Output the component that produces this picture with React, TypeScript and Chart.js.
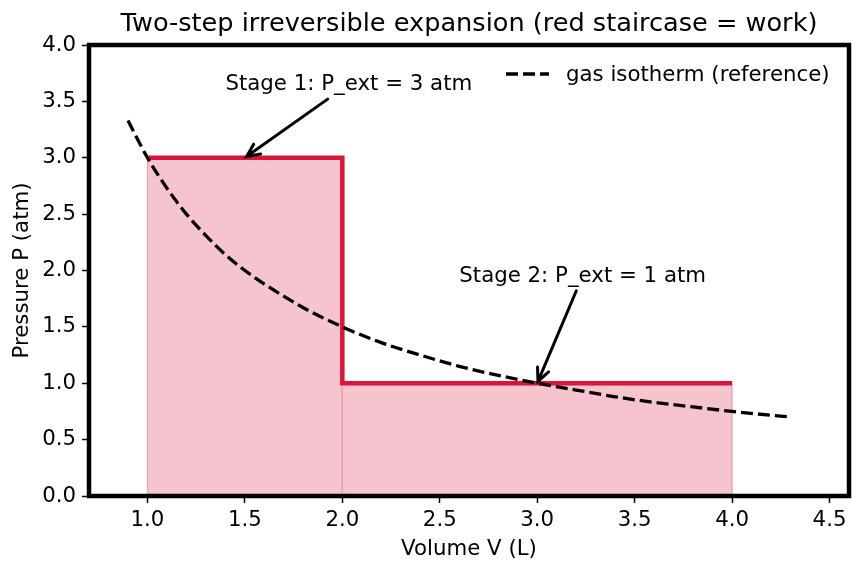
import React, { useEffect, useRef } from "react";
import { Chart, registerables } from "chart.js";
Chart.register(...registerables);

const TITLE = "Two-step irreversible expansion (red staircase = work)";
const X_LABEL = "Volume V (L)";
const Y_LABEL = "Pressure P (atm)";
const LEGEND_LABEL = "gas isotherm (reference)";

// red staircase (external pressure path)
const stageV = [1.0, 2.0, 2.0, 4.0];
const stageP = [3.0, 3.0, 1.0, 1.0];

// reference isotherm
const isoV = [0.9, 1.0, 1.1, 1.2, 1.3, 1.4, 1.5, 1.6, 1.8, 2.0, 2.2, 2.4, 2.6, 2.8, 3.0, 3.2, 3.4, 3.6, 3.8, 4.0, 4.3];
const isoP = [3.33, 3.0, 2.73, 2.5, 2.31, 2.14, 2.0, 1.88, 1.67, 1.5, 1.36, 1.25, 1.15, 1.07, 1.0, 0.94, 0.88, 0.83, 0.79, 0.75, 0.7];

const xTicks = [1.0, 1.5, 2.0, 2.5, 3.0, 3.5, 4.0, 4.5];
const yTicks = [0.0, 0.5, 1.0, 1.5, 2.0, 2.5, 3.0, 3.5, 4.0];
const xRange = [0.7, 4.6];
const yRange = [0.0, 4.0];

const annTexts = ["Stage 1: P_ext = 3 atm", "Stage 2: P_ext = 1 atm"];
const annTextX = [1.4, 2.6];
const annTextY = [3.6, 1.9];
const annTargetX = [1.5, 3.0];
const annTargetY = [3.0, 1.0];

const CRIMSON = "#dc143c";
const FILL = "rgba(220,20,60,0.25)";
const EDGE = "rgba(220,20,60,0.35)";
const FONT = "DejaVu Sans, sans-serif";
const FS = 21.3;
const TFS = 25.6;

const pts = (xs: number[], ys: number[]) => xs.map((x, i) => ({ x, y: ys[i] }));

const overlay = {
  id: "overlay",
  afterDraw(chart: any) {
    const ctx = chart.ctx as CanvasRenderingContext2D;
    const a = chart.chartArea;
    const xs = chart.scales.x;
    const ys = chart.scales.y;
    ctx.save();
    // frame
    ctx.strokeStyle = "#000";
    ctx.lineWidth = 4.5;
    ctx.setLineDash([]);
    ctx.strokeRect(a.left, a.top, a.right - a.left, a.bottom - a.top);

    // title
    ctx.fillStyle = "#000";
    ctx.font = `${TFS}px ${FONT}`;
    ctx.textAlign = "center";
    ctx.textBaseline = "middle";
    ctx.fillText(TITLE, (a.left + a.right) / 2, 24);

    // axis labels
    ctx.font = `${FS}px ${FONT}`;
    ctx.fillText(X_LABEL, (a.left + a.right) / 2, 549);
    ctx.save();
    ctx.translate(22, (a.top + a.bottom) / 2);
    ctx.rotate(-Math.PI / 2);
    ctx.fillText(Y_LABEL, 0, 0);
    ctx.restore();

    // legend
    ctx.strokeStyle = "#000";
    ctx.lineWidth = 3.3;
    ctx.setLineDash([12, 5]);
    ctx.beginPath();
    ctx.moveTo(506, 74);
    ctx.lineTo(549, 74);
    ctx.stroke();
    ctx.setLineDash([]);
    ctx.textAlign = "left";
    ctx.fillText(LEGEND_LABEL, 566, 75);

    // annotations
    ctx.textBaseline = "alphabetic";
    annTexts.forEach((t, i) => {
      const bx = xs.getPixelForValue(annTextX[i]);
      const by = ys.getPixelForValue(annTextY[i]);
      ctx.fillStyle = "#000";
      ctx.fillText(t, bx, by);
      const w = ctx.measureText(t).width;
      const cx = bx + w / 2;
      const cy = by - 6;
      const tx = xs.getPixelForValue(annTargetX[i]);
      const ty = ys.getPixelForValue(annTargetY[i]);
      const dx = tx - cx;
      const dy = ty - cy;
      const len = Math.hypot(dx, dy);
      const sx = dx !== 0 ? (w / 2 + 5) / Math.abs(dx) : Infinity;
      const sy = dy !== 0 ? 15 / Math.abs(dy) : Infinity;
      const s = Math.min(sx, sy);
      const x0 = cx + dx * s;
      const y0 = cy + dy * s;
      const ux = dx / len;
      const uy = dy / len;
      const x1 = tx - ux * 2;
      const y1 = ty - uy * 2;
      ctx.strokeStyle = "#000";
      ctx.lineWidth = 3;
      ctx.lineCap = "round";
      ctx.beginPath();
      ctx.moveTo(x0, y0);
      ctx.lineTo(x1, y1);
      const hl = 13;
      const hw = 6;
      const px = -uy;
      const py = ux;
      ctx.moveTo(x1 - ux * hl + px * hw, y1 - uy * hl + py * hw);
      ctx.lineTo(x1, y1);
      ctx.lineTo(x1 - ux * hl - px * hw, y1 - uy * hl - py * hw);
      ctx.stroke();
    });
    ctx.restore();
  },
};

export default function App() {
  const ref = useRef<HTMLCanvasElement>(null);
  useEffect(() => {
    if (!ref.current) return;
    const chart = new Chart(ref.current, {
      type: "line",
      data: {
        datasets: [
          {
            label: LEGEND_LABEL,
            data: pts(isoV, isoP),
            borderColor: "#000",
            borderWidth: 3.3,
            borderDash: [12, 5],
            pointRadius: 0,
            fill: false,
            cubicInterpolationMode: "monotone",
            order: 0,
          },
          {
            label: "staircase",
            data: pts(stageV, stageP),
            borderColor: CRIMSON,
            borderWidth: 4.5,
            borderJoinStyle: "miter",
            pointRadius: 0,
            fill: false,
            order: 1,
          },
          {
            label: "edge1",
            data: pts([stageV[0], stageV[0]], [0, stageP[0]]),
            borderColor: EDGE,
            borderWidth: 1.2,
            pointRadius: 0,
            fill: false,
            order: 2,
          },
          {
            label: "edge2",
            data: pts([stageV[2], stageV[2]], [0, stageP[2]]),
            borderColor: EDGE,
            borderWidth: 1.2,
            pointRadius: 0,
            fill: false,
            order: 2,
          },
          {
            label: "edge3",
            data: pts([stageV[3], stageV[3]], [0, stageP[3]]),
            borderColor: EDGE,
            borderWidth: 1.2,
            pointRadius: 0,
            fill: false,
            order: 2,
          },
          {
            label: "fill1",
            data: pts(stageV.slice(0, 2), stageP.slice(0, 2)),
            borderWidth: 0,
            borderColor: "rgba(0,0,0,0)",
            backgroundColor: FILL,
            pointRadius: 0,
            fill: "origin",
            order: 3,
          },
          {
            label: "fill2",
            data: pts(stageV.slice(2, 4), stageP.slice(2, 4)),
            borderWidth: 0,
            borderColor: "rgba(0,0,0,0)",
            backgroundColor: FILL,
            pointRadius: 0,
            fill: "origin",
            order: 3,
          },
        ],
      },
      options: {
        animation: false,
        responsive: false,
        layout: { padding: { left: 0, top: 45, right: 13, bottom: 0 } },
        plugins: {
          legend: { display: false },
          title: { display: false },
          tooltip: { enabled: false },
        },
        scales: {
          x: {
            type: "linear",
            min: xRange[0],
            max: xRange[1],
            afterFit: (s: any) => {
              s.height = 77;
            },
            afterBuildTicks: (s: any) => {
              s.ticks = xTicks.map((v) => ({ value: v }));
            },
            ticks: {
              color: "#000",
              font: { family: FONT, size: FS },
              padding: 5,
              maxRotation: 0,
              autoSkip: false,
              callback: (v: any) => Number(v).toFixed(1),
            },
            grid: {
              drawOnChartArea: false,
              drawTicks: true,
              tickLength: 7,
              tickColor: "#000",
              tickWidth: 1.5,
            },
            border: { display: false },
          },
          y: {
            type: "linear",
            min: yRange[0],
            max: yRange[1],
            afterFit: (s: any) => {
              s.width = 89;
            },
            afterBuildTicks: (s: any) => {
              s.ticks = yTicks.map((v) => ({ value: v }));
            },
            ticks: {
              color: "#000",
              font: { family: FONT, size: FS },
              padding: 6,
              autoSkip: false,
              callback: (v: any) => Number(v).toFixed(1),
            },
            grid: {
              drawOnChartArea: false,
              drawTicks: true,
              tickLength: 7,
              tickColor: "#000",
              tickWidth: 1.5,
            },
            border: { display: false },
          },
        },
      },
      plugins: [overlay],
    } as any);
    return () => chart.destroy();
  }, []);
  return (
    <canvas
      ref={ref}
      width={862}
      height={573}
      style={{ position: "absolute", left: 0, top: 0, display: "block" }}
    />
  );
}
